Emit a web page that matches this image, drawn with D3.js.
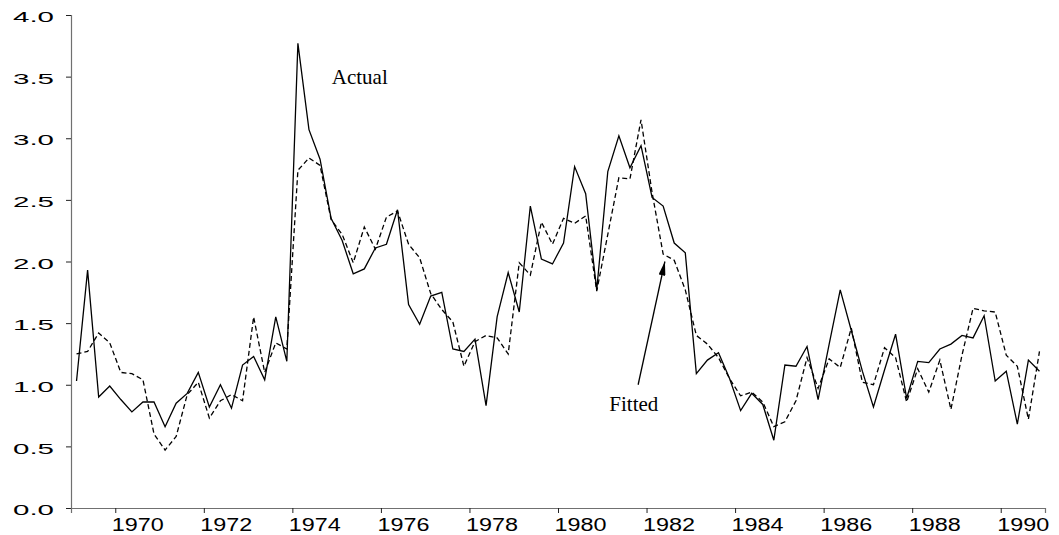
<!DOCTYPE html>
<html>
<head>
<meta charset="utf-8">
<script src="https://cdn.jsdelivr.net/npm/d3@7"></script>
<style>
  body { margin: 0; background: #fff; }
  svg { display: block; }
  .axis path.domain { stroke: #707070; stroke-width: 1.2; }
  .axis line { stroke: #222; }
  .axis text { font-family: "Liberation Sans", Arial, sans-serif; fill: #000; }
  .series { fill: none; stroke: #000; stroke-width: 1.3; stroke-linejoin: miter; }
  .note { font-family: "Liberation Serif", "Times New Roman", serif; font-size: 21px; fill: #000; }
</style>
</head>
<body>
<svg></svg>
<script>
// quarterly series, 1969Q1 .. 1990Q4
const startYear = 1969;

const actual = [
  1.03, 1.93, 0.90, 0.99, 0.88, 0.78, 0.86, 0.86, 0.66, 0.85,
  0.93, 1.10, 0.82, 1.00, 0.81, 1.16, 1.23, 1.04, 1.55, 1.19,
  3.77, 3.07, 2.83, 2.35, 2.17, 1.90, 1.94, 2.11, 2.14, 2.42,
  1.65, 1.49, 1.72, 1.75, 1.29, 1.27, 1.37, 0.83, 1.55, 1.91,
  1.59, 2.45, 2.02, 1.98, 2.15, 2.77, 2.55, 1.77, 2.73, 3.02,
  2.76, 2.94, 2.52, 2.45, 2.15, 2.07, 1.09, 1.20, 1.26, 1.05,
  0.79, 0.93, 0.84, 0.55, 1.16, 1.15, 1.31, 0.88, 1.33, 1.77,
  1.44, 1.11, 0.82, 1.12, 1.41, 0.89, 1.19, 1.18, 1.29, 1.33,
  1.40, 1.38, 1.56, 1.03, 1.11, 0.68, 1.20, 1.11
];

const fitted = [
  1.25, 1.27, 1.42, 1.34, 1.10, 1.09, 1.04, 0.60, 0.47, 0.58,
  0.92, 1.02, 0.73, 0.87, 0.92, 0.87, 1.55, 1.10, 1.34, 1.29,
  2.74, 2.84, 2.78, 2.34, 2.22, 1.99, 2.28, 2.10, 2.36, 2.41,
  2.14, 2.03, 1.74, 1.61, 1.51, 1.15, 1.35, 1.40, 1.38, 1.25,
  1.99, 1.89, 2.32, 2.14, 2.35, 2.31, 2.37, 1.76, 2.22, 2.68,
  2.67, 3.15, 2.56, 2.06, 2.01, 1.77, 1.40, 1.33, 1.22, 1.05,
  0.91, 0.94, 0.86, 0.66, 0.70, 0.87, 1.22, 0.97, 1.21, 1.14,
  1.46, 1.02, 1.00, 1.30, 1.22, 0.86, 1.13, 0.94, 1.20, 0.80,
  1.24, 1.62, 1.60, 1.59, 1.24, 1.15, 0.72, 1.27
];

const yTicks = [0, 0.5, 1, 1.5, 2, 2.5, 3, 3.5, 4];
const xTicks = [1970, 1972, 1974, 1976, 1978, 1980, 1982, 1984, 1986, 1988, 1990];

// annotations, in (year, value)
const actualLabel = [1974.89, 3.44];
const fittedLabel = [1981.16, 0.79];
const arrowTail = [1981.81, 1.0];
const arrowTip = [1982.415, 2.0];

let width = 1059,
    height = 535;

let svg = d3.select('svg')
            .attr('width', width)
            .attr('height', height);

let x = d3.scaleLinear()
          .domain([startYear, 1991])
          .range([71, 1045]);

let y = d3.scaleLinear()
          .domain([0, 4])
          .range([508, 15]);

let quarter = i => startYear + 0.125 + i * 0.25;

// axes
let yAxis = svg.append('g')
               .attr('class', 'axis')
               .attr('transform', 'translate(71,0)')
               .call(d3.axisLeft(y)
                 .tickValues(yTicks)
                 .tickSize(5)
                 .tickPadding(12)
                 .tickFormat(d3.format('.1f')));

yAxis.selectAll('text')
     .attr('font-size', 14)
     .attr('dy', '0.48em')
     .attr('textLength', 41)
     .attr('lengthAdjust', 'spacingAndGlyphs');

let xAxis = svg.append('g')
               .attr('class', 'axis')
               .attr('transform', 'translate(0,508)')
               .call(d3.axisBottom(x)
                 .tickValues(xTicks)
                 .tickSize(5)
                 .tickSizeOuter(5)
                 .tickPadding(5)
                 .tickFormat(d3.format('d')));

xAxis.selectAll('text')
     .attr('font-size', 18)
     .attr('text-anchor', 'start')
     .attr('x', -4)
     .attr('textLength', 52)
     .attr('lengthAdjust', 'spacingAndGlyphs');

// series
let line = d3.line()
             .x((d, i) => x(quarter(i)))
             .y(d => y(d));

svg.append('path')
   .datum(fitted)
   .attr('class', 'series')
   .attr('stroke-dasharray', '5,3')
   .attr('d', line);

svg.append('path')
   .datum(actual)
   .attr('class', 'series')
   .attr('d', line);

// labels + arrow
svg.append('text')
   .attr('class', 'note')
   .attr('x', x(actualLabel[0]))
   .attr('y', y(actualLabel[1]))
   .text('Actual');

svg.append('text')
   .attr('class', 'note')
   .attr('x', x(fittedLabel[0]))
   .attr('y', y(fittedLabel[1]))
   .text('Fitted');

svg.append('defs')
   .append('marker')
     .attr('id', 'head')
     .attr('viewBox', '0 -3.5 14 7')
     .attr('refX', 14)
     .attr('refY', 0)
     .attr('markerUnits', 'userSpaceOnUse')
     .attr('markerWidth', 14)
     .attr('markerHeight', 7)
     .attr('orient', 'auto')
   .append('path')
     .attr('d', 'M0,-3.5L14,0L0,3.5Z')
     .attr('fill', '#000');

svg.append('line')
   .attr('x1', x(arrowTail[0]))
   .attr('y1', y(arrowTail[1]))
   .attr('x2', x(arrowTip[0]))
   .attr('y2', y(arrowTip[1]))
   .attr('stroke', '#000')
   .attr('stroke-width', 1.3)
   .attr('marker-end', 'url(#head)');
</script>
</body>
</html>
